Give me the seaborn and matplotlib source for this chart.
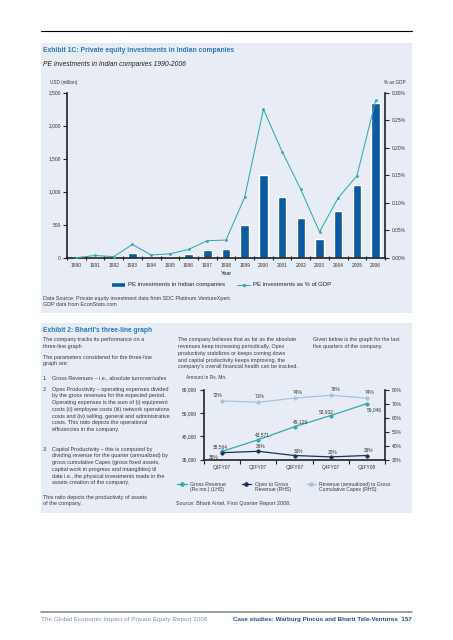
import matplotlib
matplotlib.use("Agg")
import matplotlib.pyplot as plt
from matplotlib.lines import Line2D
from matplotlib.patches import Rectangle
from matplotlib.ticker import FuncFormatter
import numpy as np
import seaborn as sns

# ---------------- data ----------------
years = ["1990", "1991", "1992", "1993", "1994", "1995", "1996", "1997", "1998",
         "1999", "2000", "2001", "2002", "2003", "2004", "2005", "2006"]
pe_usd = [1, 12, 8, 65, 8, 12, 55, 117, 133, 489, 1247, 914, 606, 277, 712, 1106, 2338]
pe_gdp_pct = [0.000, 0.004, 0.002, 0.024, 0.005, 0.007, 0.015, 0.031, 0.032,
              0.110, 0.270, 0.193, 0.124, 0.047, 0.109, 0.149, 0.286]
usd_ticks = [0, 500, 1000, 1500, 2000, 2500]
gdp_ticks = [0.00, 0.05, 0.10, 0.15, 0.20, 0.25, 0.30]

quarters = ["Q1FY07", "Q2FY07", "Q3FY07", "Q4FY07", "Q1FY08"]
gross_revenue = [38564, 43571, 49129, 53932, 59046]
opex_pct = [35, 36, 33, 32, 33]
capex_pct = [72, 71, 74, 76, 74]
rev_ticks = [35000, 45000, 55000, 65000]
pct_ticks = [30, 40, 50, 60, 70, 80]

# label offsets (pixels) for chart 2 value labels
rev_off = [(-2, 4.5), (4, 4.7), (6, 4.7), (-4, 4.0), (7, -6.0)]
opex_off = [(-8, -5), (2, 4.5), (4, 4), (2, 4), (2, 4.5)]
capex_off = [(-4, 5.5), (1, 5.5), (3, 5.5), (4.5, 5.5), (3, 5.8)]

# ---------------- style ----------------
sns.set_style("ticks")
plt.rcParams['font.family'] = ['Liberation Sans', 'DejaVu Sans']
plt.rcParams['axes.linewidth'] = 1.0

BG = "#e8ecf5"
BAR = "#0b5aa2"
TEAL = "#33a8b3"
NAVY = "#1b2f5c"
LIGHT = "#a8c3df"
TITLE = "#2a79ba"
TXT = "#3a3a3a"
AX = "#222222"

W, H = 453, 640
fig = plt.figure(figsize=(W / 100, H / 100), dpi=100)
fig.patch.set_facecolor("white")


def fx(x):
    return x / W


def fy(y):
    return 1 - y / H


def rect(x0, y0, x1, y1, color):
    fig.patches.append(Rectangle((fx(x0), fy(y1)), fx(x1) - fx(x0), fy(y0) - fy(y1),
                                 transform=fig.transFigure, facecolor=color,
                                 edgecolor="none", zorder=-5))


def hline(x0, x1, y, color, lw, **kw):
    fig.add_artist(Line2D([fx(x0), fx(x1)], [fy(y), fy(y)], transform=fig.transFigure,
                          color=color, lw=lw, **kw))


def txt(x, y, s, size=3.8, color=TXT, weight="normal", style="normal", ha="left"):
    fig.text(fx(x), fy(y), s, fontsize=size, color=color, fontweight=weight,
             fontstyle=style, ha=ha, va="center")


# backgrounds and rules
hline(41, 412, 30.5, "black", 0.8)
rect(41, 43.3, 412, 313.3, BG)
rect(41, 323.3, 412, 512.7, BG)

# ---------------- Exhibit 1C ----------------
txt(43, 50.5, "Exhibit 1C: Private equity investments in Indian companies", 4.85, TITLE, "bold")
txt(43, 64.5, "PE investments in Indian companies 1990-2006", 4.85, "#222222", style="italic")
txt(50, 82.7, "USD (million)", 3.3, "#333333")
txt(405.5, 82.7, "% as GDP", 3.3, "#333333", ha="right")

ax1 = fig.add_axes([fx(67), fy(257.7), fx(385) - fx(67), (257.7 - 92.7) / H])
ax1.set_facecolor("none")
sns.barplot(x=years, y=pe_usd, ax=ax1, color=BAR, width=0.45, saturation=1, zorder=2)
ax1.set_ylim(0, 2500)
ax1.set_yticks(usd_ticks)
ax1.yaxis.set_major_formatter(FuncFormatter(lambda v, p: f"{int(v):,}"))
for s in ["top", "right"]:
    ax1.spines[s].set_visible(False)
for s in ["left", "bottom"]:
    ax1.spines[s].set_linewidth(1.2)
    ax1.spines[s].set_color(AX)
ax1.tick_params(axis="y", direction="out", length=3, width=0.8, pad=1.5,
                labelsize=3.5, colors=AX, labelcolor="#333333")
ax1.set_xticks(range(len(years)))
ax1.set_xticklabels(years)
ax1.set_xticks(np.arange(len(years) + 1) - 0.5, minor=True)
ax1.tick_params(axis="x", which="major", length=0, pad=3.5, labelsize=3.5, labelcolor="#333333")
ax1.tick_params(axis="x", which="minor", direction="inout", length=3, width=0.8, color=AX)
ax1.set_xlabel("Year", fontsize=4.0, labelpad=2.5, color="#222222")
ax1.set_ylabel("")

ax1b = ax1.twinx()
ax1b.set_facecolor("none")
sns.pointplot(x=years, y=pe_gdp_pct, ax=ax1b, color=TEAL, markers="o",
              markersize=1.4, linewidth=0.75, errorbar=None)
ax1b.set_ylim(0, 0.30)
ax1b.set_yticks(gdp_ticks)
ax1b.yaxis.set_major_formatter(FuncFormatter(lambda v, p: f"{v:.2f}%"))
for s in ["top", "left", "bottom"]:
    ax1b.spines[s].set_visible(False)
ax1b.spines["right"].set_linewidth(1.2)
ax1b.spines["right"].set_color(AX)
ax1b.tick_params(axis="y", direction="out", length=3, width=0.8, pad=1.5,
                 labelsize=3.5, colors=AX, labelcolor="#333333")
ax1b.set_ylabel("")
ax1.set_xlim(-0.5, len(years) - 0.5)

# legend 1
hline(112, 125, 284.7, BAR, 2.6, solid_capstyle="butt")
txt(127.5, 284.7, "PE investments in Indian companies", 4.35, "#222222")
hline(237, 250, 284.7, TEAL, 0.75)
fig.add_artist(Line2D([fx(243.5)], [fy(284.7)], transform=fig.transFigure, marker="o",
                      markersize=1.4, color=TEAL, lw=0))
txt(252.7, 284.7, "PE investments as % of GDP", 4.35, "#222222")

txt(43, 298.3, "Data Source: Private equity investment data from SDC Platinum VentureXpert.", 3.9)
txt(43, 304.7, "GDP data from EconStats.com", 3.9)

# ---------------- Exhibit 2 ----------------
txt(43, 331, "Exhibit 2: Bharti\u2019s three-line graph", 4.8, TITLE, "bold")

LS = 6.7
BS = 3.95


def para(x, y0, lines, size=BS):
    for i, s in enumerate(lines):
        txt(x, y0 + i * LS, s, size)


para(43, 340, ["The company tracks its performance on a", "three-line graph"])
para(43, 357.3, ["The parameters considered for the three-line", "graph are:"])
txt(43, 378, "1.", BS)
para(52.3, 378, ["Gross Revenues \u2013 i.e., absolute turnover/sales"])
txt(43, 389.3, "2.", BS)
para(52.3, 389.3, ["Opex Productivity \u2013 operating expenses divided",
                   "by the gross revenues for the expected period.",
                   "Operating expenses is the sum of (i) equipment",
                   "costs (ii) employee costs (iii) network operations",
                   "costs and (iv) selling, general and administrative",
                   "costs. This ratio depicts the operational",
                   "efficiencies in the company."])
txt(43, 449.3, "3.", BS)
para(52.3, 449.3, ["Capital Productivity \u2013 this is computed by",
                   "dividing revenue for the quarter (annualized) by",
                   "gross cumulative Capex (gross fixed assets,",
                   "capital work in progress and intangibles) til",
                   "date i.e., the physical investments made in the",
                   "assets creation of the company."])
para(43, 497, ["This ratio depicts the productivity of assets", "of the company."])

para(178, 340, ["The company believes that as far as the absolute",
                "revenues keep increasing periodically, Opex",
                "productivity stabilizes or keeps coming down",
                "and capital productivity keeps improving, the",
                "company\u2019s overall financial health can be tracked."], 3.85)
para(313, 340, ["Given below is the graph for the last", "five quarters of the company."], 3.85)

txt(186, 377.5, "Amount in Rs. Mn.", 3.5)

ax2 = fig.add_axes([fx(204), fy(459.7), fx(385) - fx(204), 70 / H])
ax2.set_facecolor("none")
sns.pointplot(x=quarters, y=gross_revenue, ax=ax2, color=TEAL, markers="o",
              markersize=2.3, linewidth=0.9, errorbar=None)
ax2.set_ylim(35000, 65000)
ax2.set_yticks(rev_ticks)
ax2.yaxis.set_major_formatter(FuncFormatter(lambda v, p: f"{int(v):,}"))
for s in ["top", "right"]:
    ax2.spines[s].set_visible(False)
for s in ["left", "bottom"]:
    ax2.spines[s].set_linewidth(1.2)
    ax2.spines[s].set_color(AX)
ax2.tick_params(axis="y", direction="out", length=3, width=0.8, pad=2,
                labelsize=3.5, colors=AX, labelcolor="#333333")
ax2.set_xticks(range(len(quarters)))
ax2.set_xticklabels(quarters)
ax2.set_xticks(np.arange(len(quarters) + 1) - 0.5, minor=True)
ax2.tick_params(axis="x", which="major", length=0, pad=3.5, labelsize=3.5, labelcolor="#333333")
ax2.tick_params(axis="x", which="minor", direction="out", length=3, width=0.8, color=AX)
ax2.set_xlabel("")
ax2.set_ylabel("")
for i, v in enumerate(gross_revenue):
    ax2.annotate(f"{v:,}", (i, v), xytext=rev_off[i], textcoords="offset pixels",
                 ha="center", va="center", fontsize=3.5, color="#333333")

ax2b = ax2.twinx()
ax2b.set_facecolor("none")
sns.pointplot(x=quarters, y=capex_pct, ax=ax2b, color=LIGHT, markers="o",
              markersize=2.3, linewidth=0.9, errorbar=None)
sns.pointplot(x=quarters, y=opex_pct, ax=ax2b, color=NAVY, markers="o",
              markersize=2.3, linewidth=0.9, errorbar=None)
ax2b.set_ylim(30, 80)
ax2b.set_yticks(pct_ticks)
ax2b.yaxis.set_major_formatter(FuncFormatter(lambda v, p: f"{int(v)}%"))
for s in ["top", "left", "bottom"]:
    ax2b.spines[s].set_visible(False)
ax2b.spines["right"].set_linewidth(1.2)
ax2b.spines["right"].set_color(AX)
ax2b.tick_params(axis="y", direction="out", length=3, width=0.8, pad=2,
                 labelsize=3.5, colors=AX, labelcolor="#333333")
ax2b.set_ylabel("")
for i, v in enumerate(capex_pct):
    ax2b.annotate(f"{v}%", (i, v), xytext=capex_off[i], textcoords="offset pixels",
                  ha="center", va="center", fontsize=3.5, color="#333333")
for i, v in enumerate(opex_pct):
    ax2b.annotate(f"{v}%", (i, v), xytext=opex_off[i], textcoords="offset pixels",
                  ha="center", va="center", fontsize=3.5, color="#333333")
ax2.set_xlim(-0.5, len(quarters) - 0.5)

# legend 2
for (x0, col, l1, l2, tx) in [(177, TEAL, "Gross Revenue", "(Rs mn.) (LHS)", 190),
                              (241.7, NAVY, "Opex to Gross", "Revenue (RHS)", 255),
                              (306.5, LIGHT, "Revenue (annualized) to Gross",
                               "Cumulative Capex (RHS)", 318.7)]:
    hline(x0, x0 + 9.5, 484.3, col, 0.9)
    fig.add_artist(Line2D([fx(x0 + 4.75)], [fy(484.3)], transform=fig.transFigure,
                          marker="o", markersize=2.3, color=col, lw=0))
    txt(tx, 484.3, l1, 3.7)
    txt(tx, 490.0, l2, 3.7)

txt(176, 503.3, "Source: Bharti Airtel, First Quarter Report 2008.", 3.9)

# ---------------- footer ----------------
hline(41, 412, 611.7, "#8e8e8e", 1.2)
txt(41, 619.3, "The Global Economic Impact of Private Equity Report 2008", 4.55, "#7490b2")
txt(412, 619.3, "Case studies: Warburg Pincus and Bharti Tele-Ventures  157", 4.5,
    "#23508c", "bold", ha="right")

fig.savefig("out.png", dpi=100)
